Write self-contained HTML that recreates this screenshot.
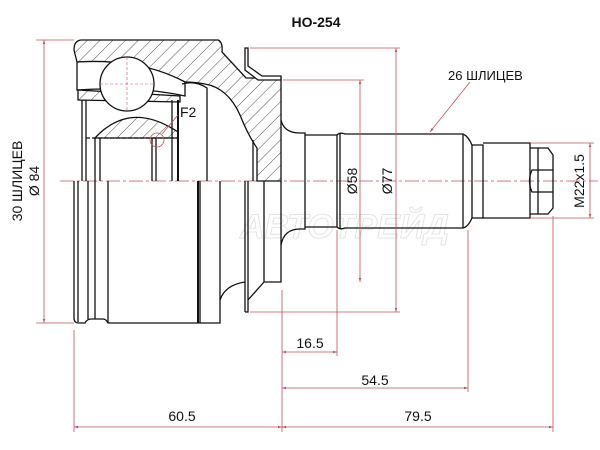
<!DOCTYPE html>
<html><head><meta charset="utf-8"><style>
html,body{margin:0;padding:0;background:#fff;width:600px;height:450px;overflow:hidden}
svg{display:block}
text{font-family:"Liberation Sans","DejaVu Sans",sans-serif;fill:#111}
</style></head><body>
<svg width="600" height="450" viewBox="0 0 600 450" xmlns="http://www.w3.org/2000/svg">
<defs>
<pattern id="h" patternUnits="userSpaceOnUse" width="9" height="9" patternTransform="rotate(45)">
<line x1="0" y1="0" x2="0" y2="9" stroke="#222" stroke-width="0.8"/>
</pattern>
<marker id="a" viewBox="0 0 10 10" refX="10" refY="5" markerWidth="7" markerHeight="5" orient="auto-start-reverse">
<path d="M0,2 L10,5 L0,8 z" fill="#c0505a"/>
</marker>
</defs>
<text x="240" y="238" font-size="34" font-style="italic" font-weight="bold" fill="none" stroke="#e4e4e4" stroke-width="1" style="fill:none">АВТОТРЕЙД</text>

<line x1="60" y1="181" x2="598" y2="181" stroke="#c0505a" stroke-width="0.8" stroke-dasharray="14,3,3,3"/>

<g stroke="#111" stroke-width="1.3" fill="none">
<path d="M74,50 Q74,40 82,40 L218,40 Q223,42 222,52 L246,78 L281,78 L281,181 L257,181 L257,148 Q248,135 240,115 Q228,88 205,84 Q195,82 185,82 Q140,60 77,62 Z" fill="url(#h)"/>
<path d="M77,62 Q140,58 185,82 L185,96 Q140,86 77,90 Z" fill="#fff"/>
<path d="M78,90 L180,96 L180,102 L78,100 Z" fill="url(#h)"/>
<circle cx="127" cy="84" r="27" fill="#fff"/>
<path d="M95,138 Q130,100 178,132 L178,138 Z" fill="url(#h)"/>
<path d="M182,84 Q195,80 207,88 L207,181" />
<line x1="253" y1="140" x2="253" y2="181"/>
<path d="M245,48 L248,48 L248,66 L262,76 L281,76 L281,80 L258,80 L245,70 Z" fill="#fff"/>
<line x1="82" y1="100" x2="82" y2="181"/>
<line x1="86" y1="100" x2="86" y2="181"/>
<line x1="95" y1="138" x2="95" y2="181"/>
<line x1="100" y1="138" x2="100" y2="181"/>
<line x1="152" y1="138" x2="152" y2="181"/>
<line x1="156" y1="138" x2="156" y2="181"/>
<line x1="172" y1="100" x2="172" y2="181"/>
<line x1="178" y1="100" x2="178" y2="181" stroke-width="2"/>
<line x1="86" y1="138" x2="178" y2="138" stroke-dasharray="4,2"/>
<path d="M74,181 L74,318 Q74,323 79,323 L85,323 Q87,319 91,319 L103,319 Q106,319 108,323 L220,323 L220,300 Q225,285 245,282"/>
<line x1="78" y1="181" x2="78" y2="322"/>
<line x1="88" y1="181" x2="88" y2="319"/>
<line x1="95" y1="181" x2="95" y2="319"/>
<line x1="108" y1="181" x2="108" y2="323"/>
<line x1="198" y1="181" x2="198" y2="323" stroke-width="2"/>
<line x1="200" y1="181" x2="200" y2="323"/>
<line x1="220" y1="181" x2="220" y2="300"/>
<line x1="245" y1="181" x2="245" y2="312"/>
<path d="M245,312 L248,312 L248,300 L264,282 L281,282 L281,181"/>
<line x1="248" y1="181" x2="248" y2="300"/>
<line x1="264" y1="181" x2="264" y2="282"/>
<path d="M281,120 Q284,133 300,133 L305,133 L305,229 L300,229 Q284,229 281,245"/>
<path d="M305,135 L337,135 Q340,132 345,134 L463,134 Q468,136 472,145 L483,145 L483,218 L472,218 Q468,227 463,228 L345,228 Q340,230 337,227 L305,227"/>
<line x1="337" y1="135" x2="337" y2="227"/>
<line x1="340" y1="134" x2="340" y2="228"/>
<line x1="463" y1="134" x2="463" y2="228"/>
<line x1="472" y1="145" x2="472" y2="218"/>
<path d="M483,143 L530,143 L530,218 L483,218"/>
<path d="M530,148 L548,148 L553,155 L553,208 L548,214 L530,214"/>
<line x1="538" y1="148" x2="538" y2="214"/>
<path d="M553,170 L532,170 Q527,181 532,192 L553,192"/>
</g>
<g stroke="#c0505a" stroke-width="0.6" stroke-dasharray="3,2">
<line x1="100" y1="84" x2="154" y2="84"/><line x1="127" y1="57" x2="127" y2="111"/>
</g>
<circle cx="157" cy="140" r="7" fill="none" stroke="#c0505a" stroke-width="0.8"/>
<line x1="162" y1="134" x2="178" y2="115" stroke="#c0505a" stroke-width="0.8"/>
<text x="180" y="117" font-size="14">F2</text>

<g stroke="#c0505a" stroke-width="0.8" fill="none">
<line x1="36" y1="40" x2="74" y2="40"/><line x1="36" y1="323" x2="74" y2="323"/>
<line x1="44" y1="40" x2="44" y2="323" marker-start="url(#a)" marker-end="url(#a)"/>
<line x1="250" y1="48" x2="400" y2="48"/><line x1="250" y1="312" x2="400" y2="312"/>
<line x1="396" y1="48" x2="396" y2="312" marker-start="url(#a)" marker-end="url(#a)"/>
<line x1="283" y1="80" x2="364" y2="80"/>
<line x1="360" y1="80" x2="360" y2="282" marker-start="url(#a)" marker-end="url(#a)"/>
<line x1="530" y1="143" x2="594" y2="143"/><line x1="530" y1="218" x2="594" y2="218"/>
<line x1="590" y1="143" x2="590" y2="218" marker-start="url(#a)" marker-end="url(#a)"/>
<line x1="282" y1="290" x2="282" y2="432"/>
<line x1="74" y1="330" x2="74" y2="432"/>
<line x1="337" y1="230" x2="337" y2="356"/>
<line x1="468" y1="230" x2="468" y2="392"/>
<line x1="553" y1="216" x2="553" y2="432"/>
<line x1="282" y1="352" x2="337" y2="352" marker-start="url(#a)" marker-end="url(#a)"/>
<line x1="282" y1="388" x2="468" y2="388" marker-start="url(#a)" marker-end="url(#a)"/>
<line x1="74" y1="427" x2="282" y2="427" marker-start="url(#a)" marker-end="url(#a)"/>
<line x1="282" y1="427" x2="553" y2="427" marker-start="url(#a)" marker-end="url(#a)"/>
<line x1="470" y1="82" x2="430" y2="132" marker-end="url(#a)"/>
</g>
<text x="316" y="27" font-size="14" font-weight="bold" text-anchor="middle">HO-254</text>
<text x="448" y="80" font-size="13">26 ШЛИЦЕВ</text>
<text x="310" y="348" font-size="14" text-anchor="middle">16.5</text>
<text x="375" y="385" font-size="14" text-anchor="middle">54.5</text>
<text x="182" y="421" font-size="14" text-anchor="middle">60.5</text>
<text x="418" y="421" font-size="14" text-anchor="middle">79.5</text>
<text transform="translate(357,181) rotate(-90)" font-size="14" text-anchor="middle">Ø58</text>
<text transform="translate(392,181) rotate(-90)" font-size="14" text-anchor="middle">Ø77</text>
<text transform="translate(584,181) rotate(-90)" font-size="14" text-anchor="middle">M22x1.5</text>
<text transform="translate(22,181) rotate(-90)" font-size="14" text-anchor="middle">30 ШЛИЦЕВ</text>
<text transform="translate(39,181) rotate(-90)" font-size="14" text-anchor="middle">Ø 84</text>
</svg>
</body></html>
